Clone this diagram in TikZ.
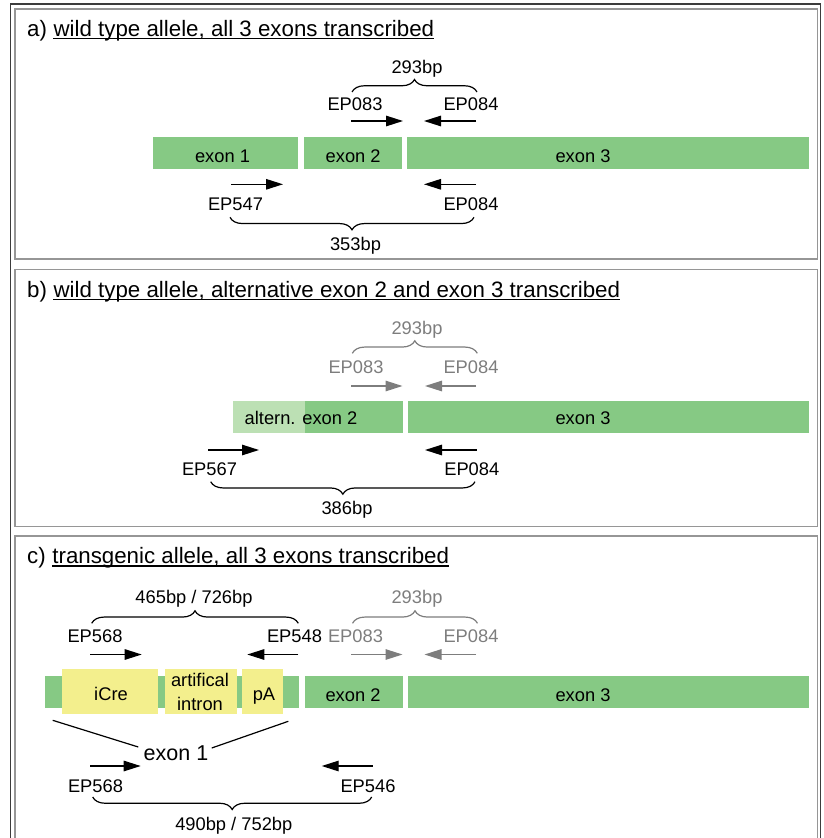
\documentclass[tikz,border=0pt]{standalone}
\usepackage{fontspec}
\setmainfont{Liberation Sans}
\usetikzlibrary{arrows.meta,decorations.pathreplacing}
\definecolor{exgreen}{RGB}{134,201,132}
\definecolor{exlight}{RGB}{188,224,180}
\definecolor{ylw}{RGB}{243,239,141}
\definecolor{gry}{RGB}{125,125,125}
\definecolor{panelgray}{RGB}{150,150,150}
\definecolor{framec}{RGB}{60,60,60}
\begin{document}
\begin{tikzpicture}[x=1pt,y=-1pt,
  lbl/.style={inner sep=0pt, anchor=base, font=\fontsize{18.3}{22}\selectfont},
  ttl/.style={inner sep=0pt, anchor=base west, font=\fontsize{22.3}{26}\selectfont},
  big/.style={inner sep=0pt, anchor=base, font=\fontsize{21.5}{26}\selectfont},
  primer/.style={line width=1.3pt, -{Triangle[length=17pt,width=10.5pt]}},
  brc/.style={decorate, decoration={brace, amplitude=12.5pt}, line width=1.2pt},
  panel/.style={draw=panelgray, line width=1.3pt},
  uline/.style={line width=1.3pt},
  graytxt/.style={text=gry},
  grayline/.style={draw=gry, color=gry}]
\useasboundingbox (0,0) rectangle (823,838);
% frames
\draw[framec, line width=1.4pt] (10.5,4) rectangle (820.5,850);
\draw[panel] (15,9) rectangle (817.5,259);
\draw[panel] (15,269.5) rectangle (817.5,526.5);
\draw[panel] (15,536) rectangle (817.5,850);

% ---------------- panel a
\node[ttl] (ta1) at (27,36) {a)};
\node[ttl] (ta2) at ([xshift=6.2pt]ta1.base east) {wild type allele, all 3 exons transcribed};
\draw[uline] ([yshift=-2.5pt]ta2.base west) -- ([yshift=-2.5pt]ta2.base east);
\node[lbl] (a293) at (417,73) {293bp};
\draw[brc] (352,92) -- (477,92);
\node[lbl] (aEP083) at (355,110) {EP083};
\node[lbl] (aEP084t) at (471,110) {EP084};
\draw[primer] (351,121) -- (403,121);
\draw[primer] (476,121) -- (424,121);
\fill[exgreen] (152.7,136.7) rectangle (297.7,169);
\fill[exgreen] (304,136.7) rectangle (402,169);
\fill[exgreen] (407,136.7) rectangle (808.5,169);
\node[lbl] (aex1) at (222.5,162) {exon 1};
\node[lbl] (aex2) at (353.2,162) {exon 2};
\node[lbl] (aex3) at (583,162) {exon 3};
\draw[primer] (231,184.3) -- (283,184.3);
\draw[primer] (476,184.3) -- (424,184.3);
\node[lbl] (aEP547) at (235.5,210) {EP547};
\node[lbl] (aEP084b) at (471,210) {EP084};
\draw[brc] (474,217.3) -- (230,217.3);
\node[lbl] (a353) at (355.5,250) {353bp};

% ---------------- panel b
\node[ttl] (tb1) at (27,297) {b)};
\node[ttl] (tb2) at ([xshift=6.2pt]tb1.base east) {wild type allele, alternative exon 2 and exon 3 transcribed};
\draw[uline] ([yshift=-2.5pt]tb2.base west) -- ([yshift=-2.5pt]tb2.base east);
\node[lbl, graytxt] (b293) at (417,334) {293bp};
\draw[brc, gry] (352.3,353.3) -- (477.3,353.3);
\node[lbl, graytxt] (bEP083) at (356,373) {EP083};
\node[lbl, graytxt] (bEP084t) at (471,373) {EP084};
\draw[primer, gry] (351,386) -- (402.5,386);
\draw[primer, gry] (476,386) -- (425,386);
\fill[exlight] (232.7,400.7) rectangle (305,432.7);
\fill[exgreen] (305,400.7) rectangle (403.3,432.7);
\fill[exgreen] (408.3,400.7) rectangle (808.5,432.7);
\node[lbl] (balt) at (301,424.3) {altern. exon 2};
\node[lbl] (bex3) at (583,424.5) {exon 3};
\draw[primer] (208.3,450) -- (259,450);
\draw[primer] (476.7,450) -- (425,450);
\node[lbl] (bEP567) at (209.5,475.7) {EP567};
\node[lbl] (bEP084b) at (471.8,475.7) {EP084};
\draw[brc] (475,481.7) -- (210.7,481.7);
\node[lbl] (b386) at (347,514) {386bp};

% ---------------- panel c
\node[ttl] (tc1) at (27,563.5) {c)};
\node[ttl] (tc2) at ([xshift=6.2pt]tc1.base east) {transgenic allele, all 3 exons transcribed};
\draw[uline] ([yshift=-2.5pt]tc2.base west) -- ([yshift=-2.5pt]tc2.base east);
\node[lbl] (c465) at (194,603.3) {465bp / 726bp};
\node[lbl, graytxt] (c293) at (417,603.3) {293bp};
\draw[brc] (91.7,623.3) -- (298.3,623.3);
\draw[brc, gry] (352.5,623.3) -- (477.5,623.3);
\node[lbl] (cEP568t) at (95,642.3) {EP568};
\node[lbl] (cEP548) at (294.5,642.3) {EP548};
\node[lbl, graytxt] (cEP083) at (355.5,642.3) {EP083};
\node[lbl, graytxt] (cEP084) at (471,642) {EP084};
\draw[primer] (90,654.5) -- (141.7,654.5);
\draw[primer] (298.3,654.5) -- (247.3,654.5);
\draw[primer, gry] (351,654.5) -- (402.5,654.5);
\draw[primer, gry] (476,654.5) -- (424.5,654.5);
\fill[exgreen] (45,676) rectangle (299.3,708.3);
\fill[exgreen] (305,676) rectangle (403,708.3);
\fill[exgreen] (408,676) rectangle (808.5,708.3);
\fill[ylw] (61.7,669) rectangle (158.3,714);
\fill[ylw] (165,669) rectangle (236.7,714);
\fill[ylw] (242.3,669) rectangle (282.7,714);
\node[lbl] (cicre) at (111,700) {iCre};
\node[lbl] (cart) at (200,686.7) {artifical};
\node[lbl] (cint) at (200,710) {intron};
\node[lbl] (cpa) at (264,700) {pA};
\node[lbl] (cex2) at (353,701.5) {exon 2};
\node[lbl] (cex3) at (583,701.5) {exon 3};
\node[big] (cex1) at (176,760) {exon 1};
\coordinate (lA) at (52.7,720.3);
\coordinate (lB) at (288.3,721.3);
\draw[line width=1.2pt] (lA) -- (138.3,747);
\draw[line width=1.2pt] (lB) -- (211.7,748);
\draw[primer] (90,766) -- (140.7,766);
\draw[primer] (372.7,766) -- (321.7,766);
\node[lbl] (cEP568b) at (95.5,792) {EP568};
\node[lbl] (cEP546) at (368,792) {EP546};
\draw[brc] (371.7,797) -- (92.7,797);
\node[lbl] (c490) at (233.8,830) {490bp / 752bp};
\end{tikzpicture}
\end{document}
